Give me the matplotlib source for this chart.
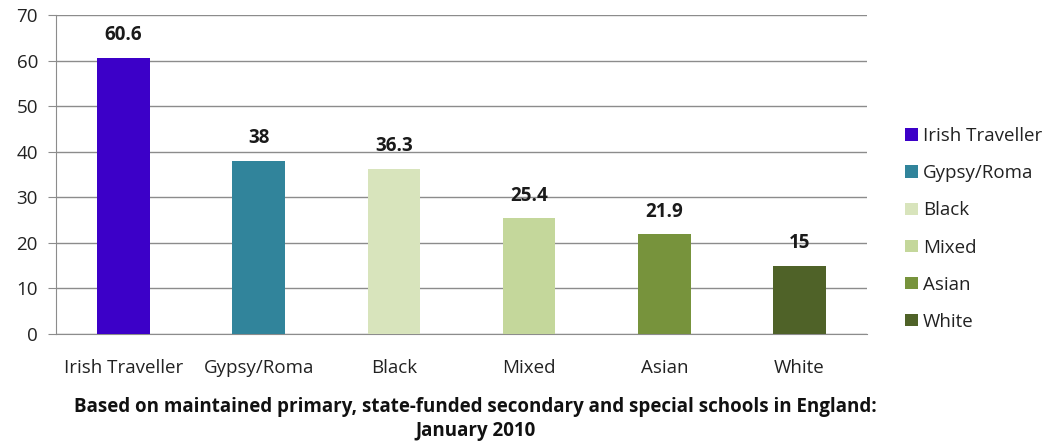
import matplotlib
matplotlib.use("Agg")
import matplotlib.pyplot as plt
from matplotlib.patches import Patch

categories = ["Irish Traveller", "Gypsy/Roma", "Black", "Mixed", "Asian", "White"]
values = [60.6, 38, 36.3, 25.4, 21.9, 15]
value_labels = ["60.6", "38", "36.3", "25.4", "21.9", "15"]
colors = ["#3c00c8", "#31849b", "#d8e4bc", "#c4d79b", "#77933c", "#4f6228"]
yticks = [0, 10, 20, 30, 40, 50, 60, 70]
caption = ("Based on maintained primary, state-funded secondary and special schools in England:\n"
           "January 2010")

plt.rcParams["font.family"] = ["Open Sans", "DejaVu Sans"]

fig = plt.figure(figsize=(10.54, 4.42), dpi=100)
ax = fig.add_axes([0.0531, 0.2443, 0.7695, 0.7217])

x = list(range(len(categories)))
bars = ax.bar(x, values, width=0.39, color=colors, zorder=3)

for xi, v, lab in zip(x, values, value_labels):
    ax.annotate(lab, (xi, v), xytext=(0, 9), textcoords="offset points",
                ha="center", va="bottom", fontsize=13.5, fontweight="bold", color="#1a1a1a")

ax.set_xlim(-0.5, len(categories) - 0.5)
ax.set_ylim(0, 70)
ax.set_yticks(yticks)
ax.set_xticks(x)
ax.set_xticklabels(categories, fontsize=13.5, color="#222222")
ax.tick_params(axis="y", labelsize=13.5, labelcolor="#222222", length=6, color="#8c8c8c", pad=7)
ax.tick_params(axis="x", length=0, pad=18)
ax.yaxis.grid(True, color="#8c8c8c", linewidth=1.0, zorder=0)
for s in ["top", "right"]:
    ax.spines[s].set_visible(False)
ax.spines["left"].set_color("#8c8c8c")
ax.spines["bottom"].set_color("#8c8c8c")
ax.spines["left"].set_zorder(4)

handles = [Patch(facecolor=c, edgecolor="none", label=n) for c, n in zip(colors, categories)]
fig.legend(handles=handles, loc="center left", bbox_to_anchor=(0.843, 0.482),
           frameon=False, fontsize=13.5, handlelength=0.65, handleheight=0.65,
           handletextpad=0.3, labelspacing=1.02, labelcolor="#222222")

fig.text(0.451, 0.052, caption, ha="center", va="center", fontsize=13.5,
         fontweight="bold", color="#111111", linespacing=1.25)

fig.savefig("out.png", dpi=100, facecolor="white")
